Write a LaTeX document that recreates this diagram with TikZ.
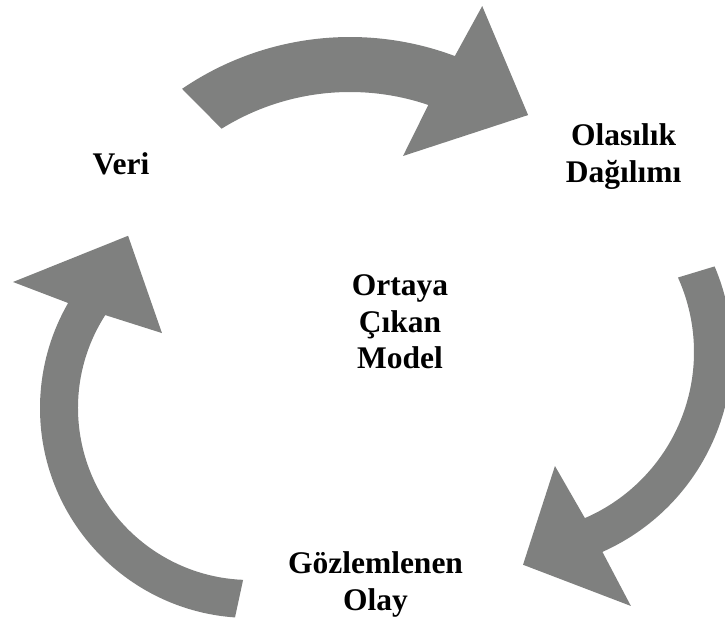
\documentclass[tikz,border=0pt]{standalone}
\usepackage{fontspec}
\setmainfont{Liberation Serif}
\usetikzlibrary{calc}
\definecolor{cyclegray}{RGB}{127,128,127}
\tikzset{
  cyclearrow/.style={fill=cyclegray, draw=none},
  label/.style={font=\bfseries\fontsize{31.5}{36.8}\selectfont, align=center, anchor=base, inner sep=0pt}
}
\begin{document}
\begin{tikzpicture}[x=1pt, y=1pt]
  \useasboundingbox (0,0) rectangle (725,621);
  \clip (0,0) rectangle (725,621);

  % centres of the three curved arrows
  \coordinate (c1) at (350,286);
  \coordinate (c2) at (513,269);
  \coordinate (c3) at (250,213);

  % top arrow: Veri -> Olasilik Dagilimi
  \fill[cyclearrow] ($(c1)+(124.3:298)$) arc[start angle=124.3, end angle=69.4, radius=298]
    -- ($(c1)+(68.1:354.5)$) -- ($(c1)+(51:283)$) -- ($(c1)+(73.5:186.7)$)
    -- ($(c1)+(71.2:243)$) arc[start angle=71.2, end angle=121.9, radius=243] -- cycle;

  % right arrow: Olasilik Dagilimi -> Gozlemlenen Olay
  \fill[cyclearrow] ($(c2)+(23:219)$) arc[start angle=23, end angle=-65.9, radius=219]
    -- ($(c2)+(-65.1:280)$) -- ($(c2)+(-87.3:213)$) -- ($(c2)+(-69.8:121.5)$)
    -- ($(c2)+(-66.6:181)$) arc[start angle=-66.6, end angle=24.3, radius=181] -- cycle;

  % left arrow: Gozlemlenen Olay -> Veri
  \fill[cyclearrow] ($(c3)+(265.9:210)$) arc[start angle=265.9, end angle=150, radius=210]
    -- ($(c3)+(152:268.4)$) -- ($(c3)+(125.3:211)$) -- ($(c3)+(139.6:115.6)$)
    -- ($(c3)+(147.3:172)$) arc[start angle=147.3, end angle=267.7, radius=172] -- cycle;

  % labels (base anchor sits on the last line)
  \node[label] (veri)  at (121,446)    {Veri};
  \node[label] (dagil) at (623.7,438.3) {Olasılık\\Dağılımı};
  \node[label] (model) at (400,252)    {Ortaya\\Çıkan\\Model};
  \node[label] (olay)  at (375.5,10.3) {Gözlemlenen\\Olay};
\end{tikzpicture}
\end{document}
